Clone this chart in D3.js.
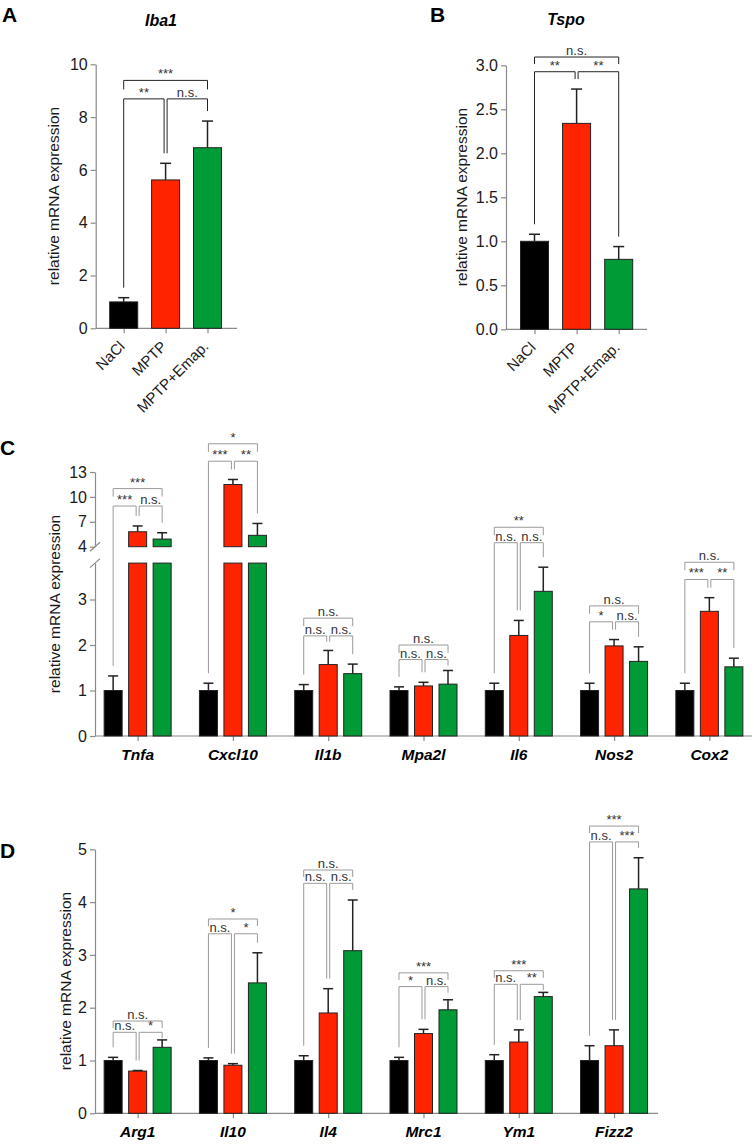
<!DOCTYPE html>
<html><head><meta charset="utf-8">
<script src="https://cdn.jsdelivr.net/npm/d3@7"></script>
<style>body{margin:0;background:#fff}svg{display:block}</style>
</head><body><svg id="chart"></svg>
<script>
// ---------------- DATA ----------------
const groups = ["NaCl", "MPTP", "MPTP+Emap."];

// Panel A – Iba1
const iba1Mean = [1.0, 5.62, 6.84];
const iba1Sem = [0.16, 0.63, 1.01];
const iba1Ticks = [0, 2, 4, 6, 8, 10];
const iba1Sig = ["**", "n.s.", "***"];
const iba1SigLevels = [8.69, 9.39];

// Panel B – Tspo
const tspoMean = [1.0, 2.34, 0.795];
const tspoSem = [0.08, 0.39, 0.145];
const tspoTicks = [0, 0.5, 1.0, 1.5, 2.0, 2.5, 3.0];
const tspoSig = ["**", "**", "n.s."];
const tspoSigLevels = [2.927, 3.094];

// Panel C – pro-inflammatory genes
const genesC = ["Tnfa", "Cxcl10", "Il1b", "Mpa2l", "Il6", "Nos2", "Cox2"];
const cNaCl = [1, 1, 1, 1, 1, 1, 1];
const cNaClSem = [0.32, 0.16, 0.13, 0.08, 0.16, 0.16, 0.16];
const cMPTP = [5.8, 11.49, 1.57, 1.1, 2.21, 1.98, 2.74];
const cMPTPSem = [0.7, 0.61, 0.31, 0.08, 0.33, 0.14, 0.30];
const cEmap = [4.92, 5.37, 1.37, 1.14, 3.18, 1.64, 1.52];
const cEmapSem = [0.76, 1.43, 0.21, 0.30, 0.53, 0.32, 0.19];
const cTicksLow = [0, 1, 2, 3];
const cTicksHigh = [4, 7, 10, 13];
const cSig = [["***", "n.s.", "***"], ["***", "**", "*"], ["n.s.", "n.s.", "n.s."],
              ["n.s.", "n.s.", "n.s."], ["n.s.", "n.s.", "**"], ["*", "n.s.", "n.s."], ["***", "**", "n.s."]];
const cSigLevels = [[8.9, 11.0], [14.3, 16.4], [2.2, 2.59], [1.68, 2.0], [4.48, 6.34], [2.51, 2.86], [3.44, 3.81]];

// Panel D – anti-inflammatory genes
const genesD = ["Arg1", "Il10", "Il4", "Mrc1", "Ym1", "Fizz2"];
const dNaCl = [1, 1, 1, 1, 1, 1];
const dNaClSem = [0.06, 0.05, 0.09, 0.06, 0.11, 0.28];
const dMPTP = [0.8, 0.91, 1.9, 1.51, 1.35, 1.28];
const dMPTPSem = [0.01, 0.03, 0.46, 0.08, 0.23, 0.30];
const dEmap = [1.25, 2.47, 3.08, 1.96, 2.21, 4.25];
const dEmapSem = [0.14, 0.57, 0.96, 0.19, 0.08, 0.59];
const dTicks = [0, 1, 2, 3, 4, 5];
const dSig = [["n.s.", "*", "n.s."], ["n.s.", "*", "*"], ["n.s.", "n.s.", "n.s."],
              ["*", "n.s.", "***"], ["n.s.", "**", "***"], ["n.s.", "***", "***"]];
const dSigLevels = [[1.534, 1.748], [3.40, 3.68], [4.356, 4.608], [2.40, 2.66], [2.443, 2.70], [5.14, 5.44]];

const yLabel = "relative mRNA expression";

// ---------------- STYLE ----------------
const FONT = '"Liberation Sans", Arial, Helvetica, sans-serif';
const barColors = ["#000000", "#ff2400", "#009a36"];
const axisColor = "#8a8a8a";
const textColor = "#1a1a1a";

const svg = d3.select("#chart").attr("width", 754).attr("height", 1148)
  .style("font-family", FONT);

function yAxis(scale, ticks, x, fmt) {
  const ax = d3.axisLeft(scale).tickValues(ticks).tickSize(5).tickSizeOuter(0).tickPadding(3)
    .tickFormat(fmt || (d => d));
  const a = svg.append("g").attr("transform", `translate(${x},0)`).call(ax);
  a.select(".domain").attr("stroke", axisColor).attr("stroke-width", 1.2);
  a.selectAll(".tick line").attr("stroke", axisColor).attr("stroke-width", 1.2);
  a.selectAll(".tick text").attr("font-size", 16).attr("font-family", FONT).attr("fill", textColor);
  return a;
}
function xAxis(scale, y, x0, x1) {
  svg.append("line").attr("x1", x0).attr("x2", x1).attr("y1", y).attr("y2", y)
    .attr("stroke", axisColor).attr("stroke-width", 1.2);
  const a = svg.append("g").attr("transform", `translate(0,${y})`)
    .call(d3.axisBottom(scale).tickSize(5).tickSizeOuter(0).tickFormat(""));
  a.select(".domain").remove();
  a.selectAll(".tick line").attr("stroke", axisColor).attr("stroke-width", 1.2);
}
function yTitle(x, y) {
  svg.append("text").attr("transform", `translate(${x},${y}) rotate(-90)`)
    .attr("text-anchor", "middle").attr("font-size", 15.5).attr("fill", textColor).text(yLabel);
}
// bars: records {cx, v, sem, color}; segments: [{lo,hi,scale}]
function drawBars(recs, yf, segments, bw, capW) {
  const g = svg.append("g");
  recs.forEach(r => {
    segments.forEach(s => {
      if (r.v <= s.lo) return;
      const top = s.scale(Math.min(r.v, s.hi));
      const bot = s.scale(s.lo);
      g.append("rect").attr("x", r.cx - bw / 2).attr("y", top).attr("width", bw).attr("height", bot - top)
        .attr("fill", r.color).attr("stroke", "#222").attr("stroke-width", 1);
    });
    const y0 = yf(r.v), y1 = yf(r.v + r.sem);
    g.append("line").attr("x1", r.cx).attr("x2", r.cx).attr("y1", y0).attr("y2", y1)
      .attr("stroke", "#222").attr("stroke-width", 1.5);
    g.append("line").attr("x1", r.cx - capW / 2).attr("x2", r.cx + capW / 2).attr("y1", y1).attr("y2", y1)
      .attr("stroke", "#222").attr("stroke-width", 1.5);
  });
}
// significance brackets
function drawSig(xs, errTops, labels, lowY, topY, color, topLeg) {
  const g = svg.append("g").attr("fill", "none").attr("stroke", color).attr("stroke-width", 1);
  const leg = i => Math.max(errTops[i] - 10, lowY + 6);
  const h = 1.5;
  g.append("path").attr("d", `M${xs[0]},${leg(0)}V${lowY}H${xs[1] - h}V${leg(1)}`);
  g.append("path").attr("d", `M${xs[1] + h},${leg(1)}V${lowY}H${xs[2]}V${leg(2)}`);
  g.append("path").attr("d", `M${xs[0]},${topY + topLeg}V${topY}H${xs[2]}V${topY + topLeg}`);
  const t = svg.append("g").attr("font-size", 13).attr("fill", "#333").attr("text-anchor", "middle");
  t.append("text").attr("x", (xs[0] + xs[1] - h) / 2).attr("y", lowY - 2).text(labels[0]);
  t.append("text").attr("x", (xs[1] + h + xs[2]) / 2).attr("y", lowY - 2).text(labels[1]);
  t.append("text").attr("x", (xs[0] + xs[2]) / 2).attr("y", topY - 2).text(labels[2]);
}
function panelLetter(s, x, y) {
  svg.append("text").attr("x", x).attr("y", y).attr("font-size", 21).attr("font-weight", "bold")
    .attr("fill", "#000").text(s);
}
function title(s, x, y) {
  svg.append("text").attr("x", x).attr("y", y).attr("font-size", 16).attr("font-weight", "bold")
    .attr("font-style", "italic").attr("text-anchor", "middle").attr("fill", "#000").text(s);
}
function rotatedLabels(scale, y) {
  scale.domain().forEach(d => {
    svg.append("text").attr("transform", `translate(${scale(d) + 2},${y + 19}) rotate(-45)`)
      .attr("text-anchor", "end").attr("font-size", 15).attr("fill", textColor).text(d);
  });
}
function geneLabels(scale, y) {
  scale.domain().forEach(d => {
    svg.append("text").attr("x", scale(d)).attr("y", y + 24).attr("text-anchor", "middle")
      .attr("font-size", 15.5).attr("font-weight", "bold").attr("font-style", "italic")
      .attr("fill", "#000").text(d);
  });
}

// ---------------- PANEL A ----------------
{
  const y = d3.scaleLinear().domain([0, 10]).range([328.3, 64.3]);
  const x = d3.scalePoint().domain(groups).range([102.75, 228.45]).padding(0.5);
  panelLetter("A", 2, 22);
  title("Iba1", 161, 26);
  yAxis(y, iba1Ticks, 95.7);
  xAxis(x, y(0), 95.7, 237);
  yTitle(59, 196);
  const recs = groups.map((gname, i) => ({ cx: x(gname), v: iba1Mean[i], sem: iba1Sem[i], color: barColors[i] }));
  drawBars(recs, y, [{ lo: 0, hi: Infinity, scale: y }], 28, 11);
  drawSig(groups.map(x), recs.map(r => y(r.v + r.sem)), iba1Sig, y(iba1SigLevels[0]), y(iba1SigLevels[1]), "#222", 9);
  rotatedLabels(x, y(0));
}

// ---------------- PANEL B ----------------
{
  const y = d3.scaleLinear().domain([0, 3]).range([329.3, 65.3]);
  const x = d3.scalePoint().domain(groups).range([513.45, 639.75]).padding(0.5);
  panelLetter("B", 430, 22);
  title("Tspo", 566, 25);
  yAxis(y, tspoTicks, 506, d3.format(".1f"));
  xAxis(x, y(0), 506, 647);
  yTitle(467, 197);
  const recs = groups.map((gname, i) => ({ cx: x(gname), v: tspoMean[i], sem: tspoSem[i], color: barColors[i] }));
  drawBars(recs, y, [{ lo: 0, hi: Infinity, scale: y }], 28, 11);
  drawSig(groups.map(x), recs.map(r => y(r.v + r.sem)), tspoSig, y(tspoSigLevels[0]), y(tspoSigLevels[1]), "#222", 7);
  rotatedLabels(x, y(0));
}

// ---------------- PANEL C ----------------
{
  const yLow = d3.scaleLinear().domain([0, 3.8]).range([736, 563.1]);
  const yHigh = d3.scaleLinear().domain([4, 13]).range([546.7, 472]);
  const yf = v => v <= 3.8 ? yLow(v) : v >= 4 ? yHigh(v)
    : yLow(3.8) + (v - 3.8) / 0.2 * (yHigh(4) - yLow(3.8));
  const x = d3.scalePoint().domain(genesC).range([90, 757]).padding(0.5);
  const inner = d3.scalePoint().domain(groups).range([-24.5, 24.5]);
  panelLetter("C", 0, 455);
  yAxis(yLow, cTicksLow, 95);
  yAxis(yHigh, cTicksHigh, 95);
  [yHigh(4), yLow(3.8)].forEach(yy => {
    svg.append("line").attr("x1", 90).attr("x2", 100).attr("y1", yy + 4.5).attr("y2", yy - 4.5)
      .attr("stroke", axisColor).attr("stroke-width", 1.2);
  });
  xAxis(x, yLow(0), 95, 752);
  yTitle(60, 604);
  const series = [[cNaCl, cNaClSem], [cMPTP, cMPTPSem], [cEmap, cEmapSem]];
  genesC.forEach((gene, gi) => {
    const recs = groups.map((gname, si) => ({
      cx: x(gene) + inner(gname), v: series[si][0][gi], sem: series[si][1][gi], color: barColors[si]
    }));
    drawBars(recs, yf, [{ lo: 0, hi: 3.8, scale: yLow }, { lo: 4, hi: Infinity, scale: yHigh }], 18, 10);
    drawSig(recs.map(r => r.cx), recs.map(r => yf(r.v + r.sem)), cSig[gi],
      yf(cSigLevels[gi][0]), yf(cSigLevels[gi][1]), "#9a9a9a", 8);
  });
  geneLabels(x, yLow(0));
}

// ---------------- PANEL D ----------------
{
  const y = d3.scaleLinear().domain([0, 5]).range([1113.3, 849.3]);
  const x = d3.scalePoint().domain(genesD).range([90, 661.7]).padding(0.5);
  const inner = d3.scalePoint().domain(groups).range([-24.5, 24.5]);
  panelLetter("D", 0, 858);
  yAxis(y, dTicks, 95);
  xAxis(x, y(0), 95, 658);
  yTitle(71, 981);
  const series = [[dNaCl, dNaClSem], [dMPTP, dMPTPSem], [dEmap, dEmapSem]];
  genesD.forEach((gene, gi) => {
    const recs = groups.map((gname, si) => ({
      cx: x(gene) + inner(gname), v: series[si][0][gi], sem: series[si][1][gi], color: barColors[si]
    }));
    drawBars(recs, y, [{ lo: 0, hi: Infinity, scale: y }], 18, 10);
    drawSig(recs.map(r => r.cx), recs.map(r => y(r.v + r.sem)), dSig[gi],
      y(dSigLevels[gi][0]), y(dSigLevels[gi][1]), "#9a9a9a", 7);
  });
  geneLabels(x, y(0));
}
</script></body></html>
